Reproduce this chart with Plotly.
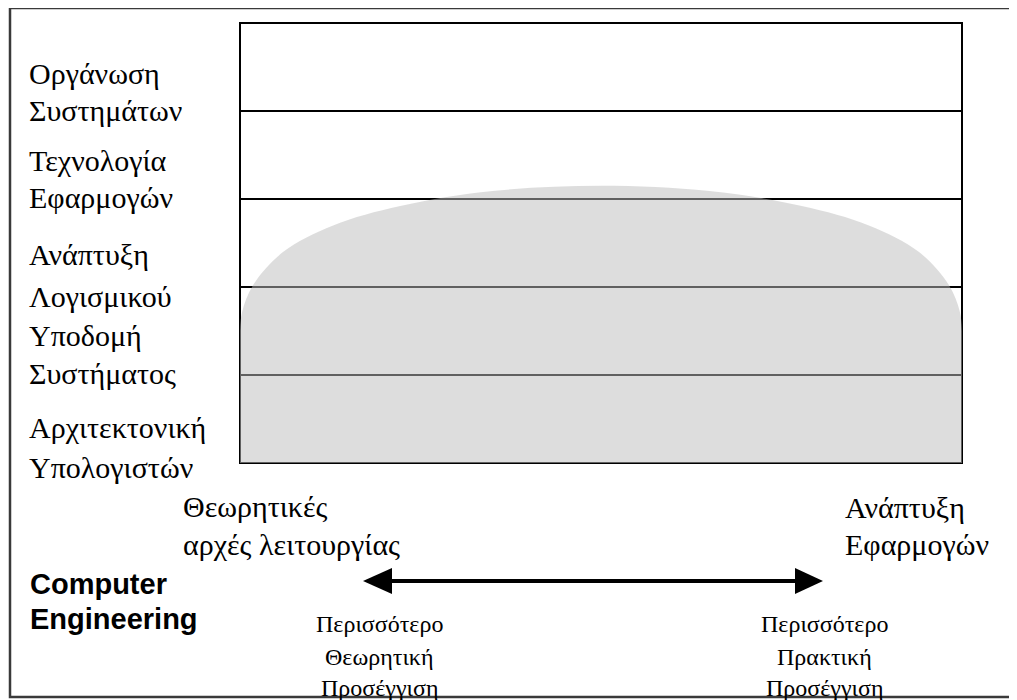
import plotly.graph_objects as go

# ---------------- data ----------------
layer_labels = [
    ["Αρχιτεκτονική", "Υπολογιστών"],
    ["Υποδομή", "Συστήματος"],
    ["Ανάπτυξη", "Λογισμικού"],
    ["Τεχνολογία", "Εφαρμογών"],
    ["Οργάνωση", "Συστημάτων"],
]
n_layers = len(layer_labels)

# emphasis profile (x: 0 = theory, 100 = practice; y: layer units)
dome_x = [0, 0.3, 1.8, 6.0, 12.9, 22.2, 35.0, 50.0, 65.0, 77.8, 87.1, 94.0, 98.2, 99.7, 100]
dome_y = [1.5, 1.72, 2.02, 2.40, 2.70, 2.92, 3.09, 3.15, 3.09, 2.92, 2.70, 2.40, 2.02, 1.72, 1.5]

left_end = ["Θεωρητικές", "αρχές λειτουργίας"]
right_end = ["Ανάπτυξη", "Εφαρμογών"]
field_name = ["Computer", "Engineering"]
left_note = ["Περισσότερο", "Θεωρητική", "Προσέγγιση"]
right_note = ["Περισσότερο", "Πρακτική", "Προσέγγιση"]

# ---------------- layout geometry (page pixels) ----------------
PAGE_W, PAGE_H = 1017, 700
OFF = 8                      # default page body margin
W, H = PAGE_W - OFF, PAGE_H - OFF
BOX_L, BOX_R, BOX_T, BOX_B = 240, 962, 23, 463
XMAX = 100.0

span_x = XMAX * W / (BOX_R - BOX_L)
x0 = -(BOX_L - OFF) / W * span_x
span_y = n_layers * H / (BOX_B - BOX_T)
ytop = (BOX_B - OFF) / H * span_y
ybot = ytop - span_y


def px(x):
    return (x - OFF) / W


def py(y):
    return 1 - (y - OFF) / H


SERIF = "Liberation Serif, Times New Roman, serif"
SANS = "Liberation Sans, Arial, sans-serif"

fig = go.Figure()

fig.add_trace(go.Scatter(
    x=dome_x, y=dome_y, mode="lines", line=dict(width=0, shape="spline", smoothing=1.0),
    fill="tozeroy", fillcolor="rgba(188,188,188,0.51)", hoverinfo="skip", showlegend=False,
))

shapes = []
# layer box and separators (drawn beneath the emphasis area)
shapes.append(dict(type="rect", xref="x", yref="y", x0=0, x1=XMAX, y0=0, y1=n_layers,
                   line=dict(color="black", width=2), layer="below"))
for k in range(1, n_layers):
    shapes.append(dict(type="line", xref="x", yref="y", x0=0, x1=XMAX, y0=k, y1=k,
                       line=dict(color="black", width=2), layer="below"))

# outer frame
shapes.append(dict(type="rect", xref="paper", yref="paper", x0=px(10), x1=px(1030),
                   y0=py(697), y1=py(8), line=dict(color="#3a3a3a", width=2.5), layer="below"))

# double arrow
AY = 581
shapes.append(dict(type="line", xref="paper", yref="paper", x0=px(385), x1=px(800),
                   y0=py(AY), y1=py(AY), line=dict(color="black", width=4)))
for tip, base in [(363, 392), (823, 795)]:
    path = "M {} {} L {} {} L {} {} Z".format(px(tip), py(AY), px(base), py(AY - 13),
                                              px(base), py(AY + 13))
    shapes.append(dict(type="path", xref="paper", yref="paper", path=path,
                       fillcolor="black", line=dict(color="black", width=0)))

annotations = []


def add_text(text, x, y, size, font=SERIF, xanchor="left", bold=False):
    annotations.append(dict(
        text="<b>" + text + "</b>" if bold else text, x=px(x), y=py(y), xref="paper", yref="paper",
        xanchor=xanchor, yanchor="middle", showarrow=False,
        font=dict(family=font, size=size, color="black"),
    ))


label_y = [(427, 467), (335, 373), (255, 296), (160, 198), (73, 111)]
for lines, ys in zip(layer_labels, label_y):
    for t, y in zip(lines, ys):
        add_text(t, 27, y, 30)

for t, y in zip(left_end, (506, 544)):
    add_text(t, 181, y, 30)
for t, y in zip(right_end, (507, 544)):
    add_text(t, 843, y, 30)
for t, y in zip(field_name, (584, 619)):
    add_text(t, 28, y, 29, font=SANS, bold=True)
for t, y in zip(left_note, (624, 657, 688)):
    add_text(t, 379, y, 24, xanchor="center")
for t, y in zip(right_note, (624, 657, 688)):
    add_text(t, 824, y, 24, xanchor="center")

fig.update_layout(
    width=W, height=H, margin=dict(l=0, r=0, t=0, b=0),
    paper_bgcolor="white", plot_bgcolor="white",
    xaxis=dict(range=[x0, x0 + span_x], visible=False, fixedrange=True),
    yaxis=dict(range=[ybot, ytop], visible=False, fixedrange=True),
    shapes=shapes, annotations=annotations, showlegend=False,
)

fig.write_html("out.html")
